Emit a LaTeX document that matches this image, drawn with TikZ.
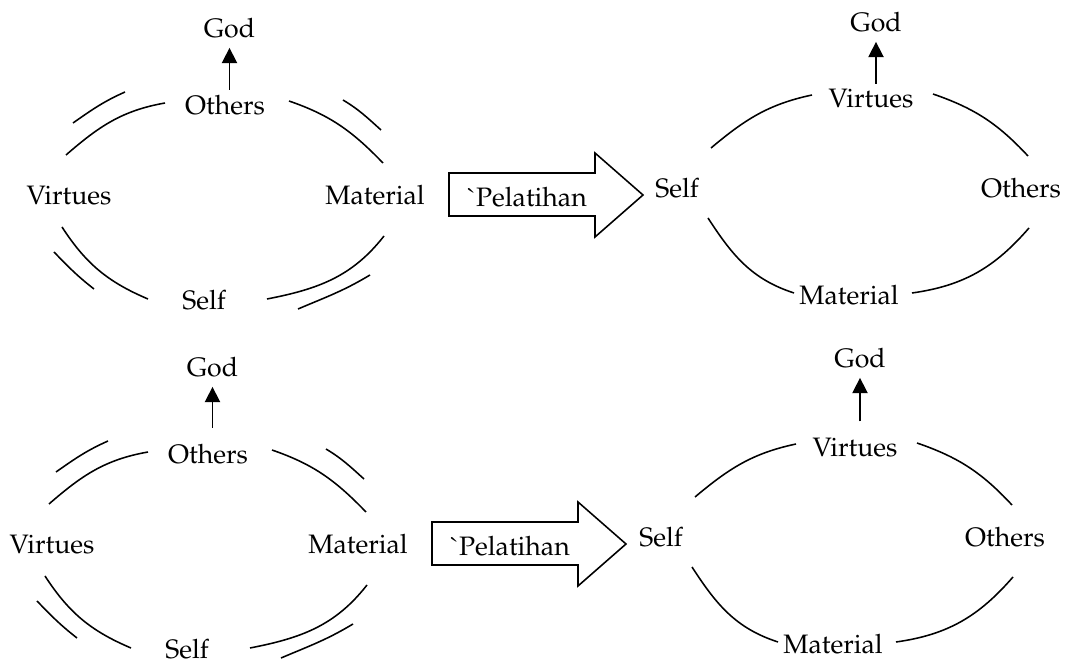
\documentclass[tikz,border=0pt]{standalone}
\usepackage[T1]{fontenc}
\usepackage{mathpazo}
\usetikzlibrary{arrows.meta}
\tikzset{
  word/.style={font=\fontsize{12}{14}\selectfont, inner sep=4pt, anchor=base},
  ring/.style={line width=0.7pt},
  lift/.style={-{Triangle[width=6.8pt,length=6.8pt]}, line width=0.7pt},
  push/.style={line width=0.7pt, line join=miter},
}

\begin{document}
\begin{tikzpicture}[x=0.45pt, y=0.45pt]
  \useasboundingbox (0,0) rectangle (1065,-664);

  % before: double rings, others on top
  \foreach \r/\dx/\dy/\up/\gap in {a/0/0/0/-1.5, b/-17/-349/10/3.5} {
    \begin{scope}[shift={(\dx,\dy)}]
      \node[word] (\r-god)    at (229.5,-38+\up) {God};
      \node[word] (\r-top)    at (225,-115) {Others};
      \node[word] (\r-left)   at (69,-205)  {Virtues};
      \node[word] (\r-right)  at (375,-205) {Material};
      \node[word] (\r-bottom) at (204,-310) {Self};

      \draw[lift, shorten <=\gap pt] (\r-god.south |- \r-top.north) -- (\r-god.south);

      \draw[ring] ([shift={(-60,12)}]\r-top.base)   to[out=190,in=41]  ([shift={(-3,50)}]\r-left.base);
      \draw[ring] ([shift={(64,14)}]\r-top.base)    to[out=-19,in=134] ([shift={(8,42)}]\r-right.base);
      \draw[ring] ([shift={(-7,-22)}]\r-left.base)  to[out=-57,in=157] ([shift={(-56,11)}]\r-bottom.base);
      \draw[ring] ([shift={(9,-31)}]\r-right.base)  to[out=232,in=11]  ([shift={(63,11)}]\r-bottom.base);

      \draw[ring] ([shift={(-100,23)}]\r-top.base)  to[out=204,in=35]  ([shift={(4,82)}]\r-left.base);
      \draw[ring] ([shift={(118,15)}]\r-top.base)   to[out=-31,in=138] ([shift={(6,75)}]\r-right.base);
      \draw[ring] ([shift={(-15,-47)}]\r-left.base) to[out=-46,in=142] ([shift={(-110,21)}]\r-bottom.base);
      \draw[ring] ([shift={(-5,-70)}]\r-right.base) to[out=211,in=23]  ([shift={(94,1)}]\r-bottom.base);
    \end{scope}
  }

  % block arrows
  \foreach \r/\dx/\dy in {a/0/0, b/-17/-349} {
    \begin{scope}[shift={(\dx,\dy)}]
      \node[word, inner sep=0pt] (\r-train) at (527,-207) {\`{}Pelatihan};
      \draw[push] (449,-173) -- (595,-173) -- (595,-153) -- (643,-195)
                  -- (595,-237) -- (595,-216) -- (449,-216) -- cycle;
    \end{scope}
  }

  % after: single rings, virtues on top
  \foreach \r/\dx/\dy/\up/\gap in {c/0/0/0/-1.5, d/-16/-349/13/3.5} {
    \begin{scope}[shift={(\dx,\dy)}]
      \node[word] (\r-god)    at (876,-32+\up) {God};
      \node[word] (\r-top)    at (871,-108) {Virtues};
      \node[word] (\r-left)   at (677,-198) {Self};
      \node[word] (\r-right)  at (1021,-198) {Others};
      \node[word] (\r-bottom) at (849,-305) {Material};

      \draw[lift, shorten <=\gap pt] (\r-god.south |- \r-top.north) -- (\r-god.south);

      \draw[ring] ([shift={(-59,13)}]\r-top.base)   to[out=192,in=40]  ([shift={(34,50)}]\r-left.base);
      \draw[ring] ([shift={(62,14)}]\r-top.base)    to[out=-19,in=133] ([shift={(7,42)}]\r-right.base);
      \draw[ring] ([shift={(31,-20)}]\r-left.base)  to[out=-57,in=162] ([shift={(-55,12)}]\r-bottom.base);
      \draw[ring] ([shift={(8,-30)}]\r-right.base)  to[out=229,in=8]   ([shift={(63,12)}]\r-bottom.base);
    \end{scope}
  }
\end{tikzpicture}
\end{document}
